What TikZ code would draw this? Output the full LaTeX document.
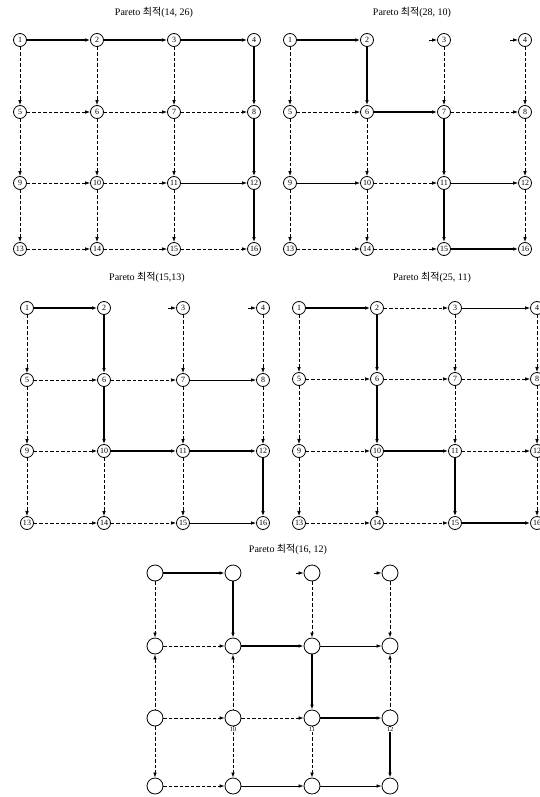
\documentclass[tikz,border=0pt]{standalone}
\usepackage{fontspec}
\setmainfont{Liberation Serif}
\newfontfamily\kor{Noto Sans CJK KR}
\usetikzlibrary{arrows.meta}
\begin{document}
\begin{tikzpicture}[x=1pt, y=-1pt,
	vtx/.style={circle, draw, line width=0.8pt, fill=white, minimum size=13pt, inner sep=0pt, font=\fontsize{8}{8}\selectfont},
	bigvtx/.style={vtx, minimum size=16pt},
	opt/.style={-{Latex[length=5pt,width=3.6pt]}, line width=1.4pt},
	plainedge/.style={-{Latex[length=5pt,width=3.6pt]}, line width=0.7pt},
	dashedge/.style={plainedge, dash pattern=on 3.5pt off 2pt},
	title/.style={font=\fontsize{10}{12}\selectfont},
	numlab/.style={font=\fontsize{6.5}{7}\selectfont, inner sep=0.5pt}]
	\useasboundingbox (0,0) rectangle (540,797);

	% titles
	\node[title] (ta) at (154,12) {Pareto {\kor 최적}(14, 26)};
	\node[title] (tb) at (412,12) {Pareto {\kor 최적}(28, 10)};
	\node[title] (tc) at (147,277) {Pareto {\kor 최적}(15,13)};
	\node[title] (td) at (432,277) {Pareto {\kor 최적}(25, 11)};
	\node[title] (te) at (288,549) {Pareto {\kor 최적}(16, 12)};

	% grid a: (14, 26)
	\foreach \y [count=\r from 0] in {40,112,183,249}
		\foreach \x [count=\c from 1] in {20,97,174,254}
			{\pgfmathtruncatemacro\k{4*\r+\c}
			\node[vtx] (a\k) at (\x,\y) {\k};}
	\foreach \s/\t in {1/2,2/3,3/4,4/8,8/12,12/16}
		\draw[opt] (a\s) -- (a\t);
	\draw[plainedge] (a11) -- (a12);
	\foreach \s/\t in {5/6,6/7,7/8,9/10,10/11,13/14,14/15,15/16,1/5,5/9,9/13,2/6,6/10,10/14,3/7,7/11,11/15}
		\draw[dashedge] (a\s) -- (a\t);

	% grid b: (28, 10)
	\foreach \y [count=\r from 0] in {40,112,183,249}
		\foreach \x [count=\c from 1] in {290,367,444,525}
			{\pgfmathtruncatemacro\k{4*\r+\c}
			\node[vtx] (b\k) at (\x,\y) {\k};}
	\foreach \s/\t in {1/2,2/6,6/7,7/11,11/15,15/16}
		\draw[opt] (b\s) -- (b\t);
	\foreach \s/\t in {9/10,11/12}
		\draw[plainedge] (b\s) -- (b\t);
	\foreach \s/\t in {5/6,7/8,10/11,13/14,14/15,1/5,5/9,9/13,6/10,10/14,3/7,4/8,8/12,12/16}
		\draw[dashedge] (b\s) -- (b\t);
	\foreach \k in {3,4}
		{\coordinate (b\k s) at ([xshift=-8pt]b\k.west);
		\draw[plainedge] (b\k s) -- (b\k);}

	% grid c: (15,13)
	\foreach \y [count=\r from 0] in {308,380,451,523}
		\foreach \x [count=\c from 1] in {27,104,183,263}
			{\pgfmathtruncatemacro\k{4*\r+\c}
			\node[vtx] (c\k) at (\x,\y) {\k};}
	\foreach \s/\t in {1/2,2/6,6/10,10/11,11/12,12/16}
		\draw[opt] (c\s) -- (c\t);
	\foreach \s/\t in {7/8,15/16}
		\draw[plainedge] (c\s) -- (c\t);
	\foreach \s/\t in {5/6,6/7,9/10,13/14,14/15,1/5,5/9,9/13,10/14,3/7,7/11,11/15,4/8,8/12}
		\draw[dashedge] (c\s) -- (c\t);
	\foreach \k in {3,4}
		{\coordinate (c\k s) at ([xshift=-8pt]c\k.west);
		\draw[plainedge] (c\k s) -- (c\k);}

	% grid d: (25, 11)
	\foreach \y [count=\r from 0] in {308,379,451,523}
		\foreach \x [count=\c from 1] in {299,377,455,537}
			{\pgfmathtruncatemacro\k{4*\r+\c}
			\node[vtx] (d\k) at (\x,\y) {\k};}
	\foreach \s/\t in {1/2,2/6,6/10,10/11,11/15,15/16}
		\draw[opt] (d\s) -- (d\t);
	\draw[plainedge] (d3) -- (d4);
	\foreach \s/\t in {2/3,5/6,6/7,7/8,9/10,11/12,13/14,14/15,1/5,5/9,9/13,10/14,3/7,7/11,4/8,8/12,12/16}
		\draw[dashedge] (d\s) -- (d\t);

	% grid e: (16, 12)
	\foreach \y [count=\r from 0] in {573,646,718,786}
		\foreach \x [count=\c from 1] in {155,233,312,390}
			{\pgfmathtruncatemacro\k{4*\r+\c}
			\node[bigvtx] (e\k) at (\x,\y) {};}
	\foreach \s/\t in {1/2,2/6,6/7,7/11,11/12,12/16}
		\draw[opt] (e\s) -- (e\t);
	\foreach \s/\t in {7/8,14/15,15/16}
		\draw[plainedge] (e\s) -- (e\t);
	\foreach \s/\t in {5/6,9/10,10/11,13/14,1/5,9/13,10/14,3/7,11/15,4/8}
		\draw[dashedge] (e\s) -- (e\t);
	\foreach \s/\t in {5/9,6/10,8/12}
		\draw[dashedge, {Latex[length=5pt,width=3.6pt]}-] (e\s) -- (e\t);
	\foreach \k in {3,4}
		{\coordinate (e\k s) at ([xshift=-8pt]e\k.west);
		\draw[plainedge] (e\k s) -- (e\k);}
	\foreach \k in {10,11,12}
		\node[numlab, fill=white, below=0pt] (e\k l) at (e\k.south) {\k};
\end{tikzpicture}
\end{document}
